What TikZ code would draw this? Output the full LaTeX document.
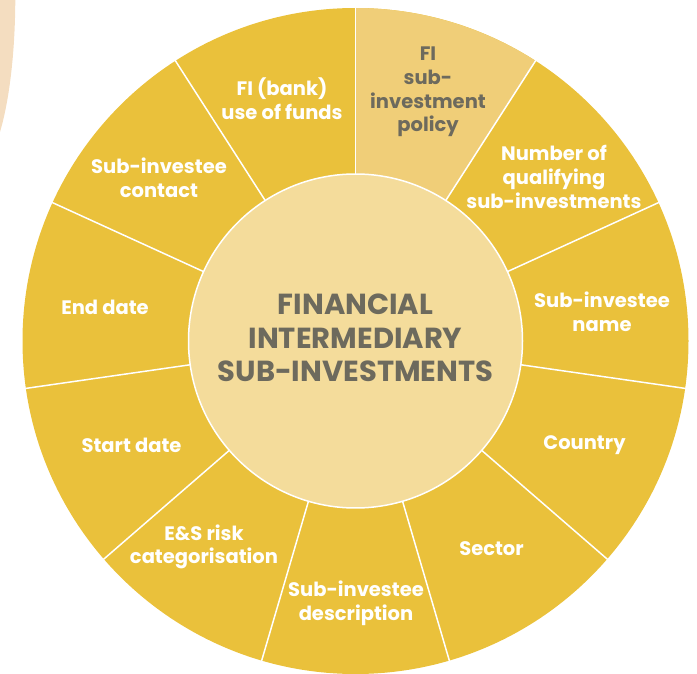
\documentclass[tikz,border=0pt]{standalone}
\usepackage{fontspec}
\setmainfont{Poppins}
\definecolor{gold}{HTML}{EAC13B}
\definecolor{lightgold}{HTML}{F0CE78}
\definecolor{centrefill}{HTML}{F4DC9B}
\definecolor{darktext}{HTML}{6D6A5D}
\definecolor{peach}{HTML}{F4DDC0}
\begin{document}
\begin{tikzpicture}[x=1pt,y=1pt,
  lbl/.style={text=white,font=\fontsize{19.5}{23.7}\selectfont\bfseries,align=center,inner sep=0pt},
  darklbl/.style={lbl,text=darktext},
  ctr/.style={text=darktext,font=\fontsize{29}{33.5}\selectfont\bfseries,align=center,inner sep=0pt},
  divider/.style={draw=white,line width=1.5pt}]
\useasboundingbox (0,0) rectangle (697,673);
\coordinate (C) at (355.5,332);
\fill[peach] (0,673) -- (15.3,673) .. controls (15,613) and (8,568) .. (0,541) -- cycle;
\fill[gold] (C) circle[radius=333];
\fill[lightgold] (C) -- ([shift={(90:333)}]C) arc[start angle=90,end angle=57.2727,radius=333] -- cycle;
\foreach \k in {0,...,10}
  \draw[divider] ([shift={(90-\k*32.7273:166)}]C) -- ([shift={(90-\k*32.7273:334)}]C);
\fill[centrefill] (C) circle[radius=167];
\draw[divider] (C) circle[radius=167];
\node[darklbl] (policy) at (428,581) {FI\\sub-\\investment\\policy};
\node[lbl] (number) at (554,496) {Number of\\qualifying\\sub-investments};
\node[lbl] (name) at (602,361) {Sub-investee\\name};
\node[lbl] (country) at (584.5,228) {Country};
\node[lbl] (sector) at (491.5,124) {Sector};
\node[lbl] (descr) at (356,70) {Sub-investee\\description};
\node[lbl] (esrisk) at (204,126) {E\&S risk\\categorisation};
\node[lbl] (start) at (131.5,228) {Start date};
\node[lbl] (end) at (105,366) {End date};
\node[lbl] (contact) at (159,495) {Sub-investee\\contact};
\node[lbl] (bank) at (282,574) {FI (bank)\\use of funds};
\node[ctr] (centre) at (355.5,335) {FINANCIAL\\INTERMEDIARY\\SUB-INVESTMENTS};
\end{tikzpicture}
\end{document}
